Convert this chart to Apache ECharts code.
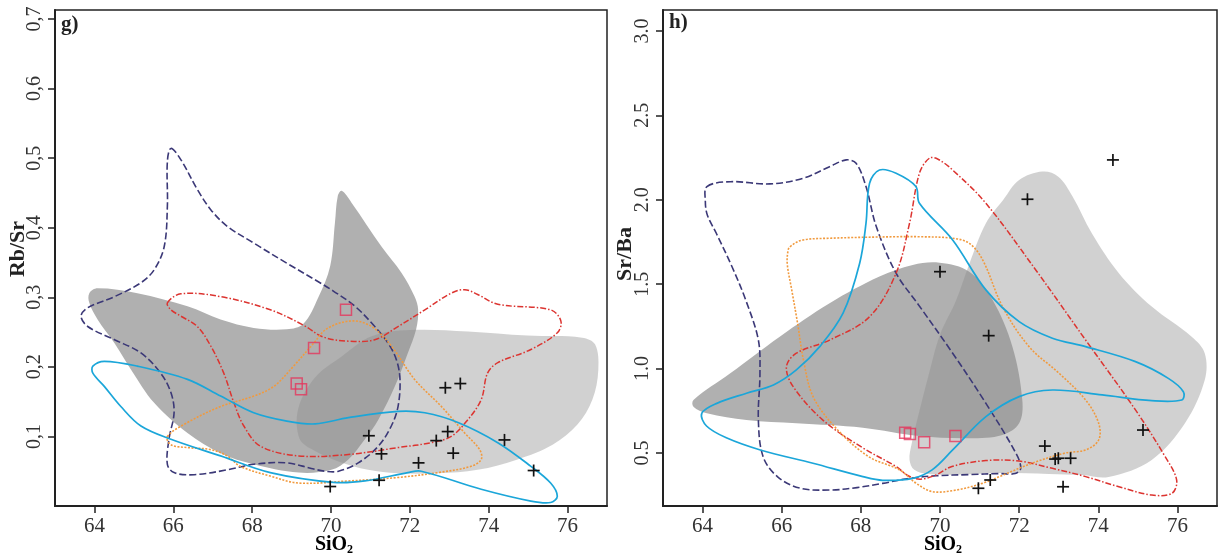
<!DOCTYPE html>
<html><head><meta charset="utf-8">
<script src="https://cdn.jsdelivr.net/npm/echarts@6/dist/echarts.min.js"></script>
<style>html,body{margin:0;padding:0;background:#fff}#c{width:1219px;height:555px}</style>
</head><body><div id="c"></div>
<script>
// ---- tick labels ----
const xTicks = [64, 66, 68, 70, 72, 74, 76];
const gYTicks = [0.1, 0.2, 0.3, 0.4, 0.5, 0.6, 0.7];
const hYTicks = [0.5, 1.0, 1.5, 2.0, 2.5, 3.0];

// ---- panel g) Rb/Sr vs SiO2 : fields ----
const gDark = [[63.87,0.306],[64.08,0.313],[65.09,0.306],[66.36,0.287],[67.20,0.268],[68.04,0.256],[68.88,0.254],[69.3,0.262],[69.68,0.300],[69.98,0.345],[70.10,0.407],[70.17,0.445],[70.27,0.453],[70.52,0.436],[71.28,0.373],[71.79,0.335],[72.12,0.301],[72.21,0.282],[72.16,0.254],[71.95,0.220],[71.62,0.172],[71.20,0.124],[70.86,0.096],[70.44,0.067],[70.01,0.052],[69.18,0.048],[68.04,0.060],[67.20,0.076],[66.36,0.105],[65.52,0.148],[64.93,0.196],[64.51,0.234],[64.08,0.268],[63.87,0.292]];
const gLight = [[69.17,0.140],[69.60,0.185],[70.27,0.215],[71.03,0.244],[72.0,0.253],[73.47,0.251],[74.98,0.245],[76.37,0.242],[76.70,0.232],[76.78,0.196],[76.63,0.153],[76.25,0.117],[75.62,0.088],[74.73,0.067],[73.72,0.052],[72.71,0.047],[71.70,0.047],[70.94,0.052],[70.19,0.064],[69.56,0.080],[69.2,0.097]];
const gPurple = [[65.94,0.514],[66.19,0.498],[66.61,0.455],[66.95,0.426],[67.37,0.402],[68.04,0.378],[68.88,0.349],[69.72,0.321],[70.06,0.309],[70.61,0.287],[71.11,0.258],[71.45,0.234],[71.66,0.210],[71.75,0.182],[71.70,0.143],[71.53,0.115],[71.20,0.086],[70.69,0.062],[70.19,0.050],[69.85,0.050],[69.5,0.054],[68.88,0.062],[68.04,0.060],[67.37,0.052],[66.53,0.045],[66.02,0.048],[65.85,0.060],[65.89,0.096],[66.02,0.134],[65.94,0.163],[65.68,0.191],[65.18,0.220],[64.51,0.239],[63.83,0.258],[63.66,0.273],[63.83,0.285],[64.51,0.301],[65.18,0.321],[65.52,0.340],[65.77,0.373],[65.85,0.431],[65.85,0.495]];
const gRed = [[65.85,0.292],[66.19,0.305],[67.20,0.301],[68.46,0.282],[69.3,0.260],[69.8,0.243],[70.44,0.237],[71.11,0.239],[71.70,0.258],[72.38,0.282],[73.05,0.306],[73.39,0.311],[73.72,0.304],[74.23,0.290],[75.57,0.282],[75.83,0.266],[75.74,0.249],[75.07,0.225],[74.23,0.206],[73.97,0.191],[73.81,0.153],[73.47,0.124],[73.05,0.100],[72.54,0.091],[71.70,0.084],[70.44,0.074],[69.18,0.072],[68.21,0.086],[67.79,0.115],[67.54,0.148],[67.28,0.191],[66.95,0.230],[66.61,0.258],[66.19,0.273],[65.94,0.282]];
const gOrange = [[65.85,0.100],[66.36,0.120],[67.20,0.143],[68.04,0.158],[68.55,0.172],[69.05,0.201],[69.56,0.234],[69.9,0.255],[70.52,0.266],[71.03,0.258],[71.53,0.230],[72.12,0.182],[72.80,0.143],[73.39,0.105],[73.77,0.081],[73.81,0.067],[73.55,0.057],[72.71,0.048],[71.70,0.041],[70.44,0.036],[69.18,0.033],[68.46,0.043],[67.70,0.057],[67.37,0.072],[66.95,0.081],[66.36,0.084],[65.94,0.088]];
const gBlue = [[63.96,0.201],[64.25,0.208],[65.09,0.201],[66.36,0.182],[67.20,0.158],[68.04,0.134],[68.88,0.122],[69.6,0.118],[70.44,0.127],[71.70,0.136],[72.38,0.134],[73.22,0.120],[74.23,0.091],[75.07,0.057],[75.57,0.033],[75.74,0.014],[75.57,0.005],[75.07,0.007],[73.81,0.024],[72.29,0.050],[71.95,0.048],[70.86,0.036],[70.06,0.034],[68.46,0.048],[67.20,0.072],[65.94,0.096],[65.18,0.115],[64.67,0.143],[64.25,0.172],[63.96,0.191]];
const gSquares = [[69.13,0.176],[69.24,0.168],[69.57,0.227],[70.38,0.282]];
const gCrosses = [[72.90,0.170],[73.28,0.176],[72.96,0.107],[70.96,0.101],[72.67,0.094],[74.40,0.095],[71.28,0.075],[73.10,0.076],[72.22,0.062],[75.14,0.051],[71.22,0.037],[69.98,0.028]];

// ---- panel h) Sr/Ba vs SiO2 : fields ----
const hDark = [[63.77,0.814],[64.70,0.972],[65.95,1.189],[67.21,1.387],[68.47,1.545],[69.31,1.614],[69.99,1.627],[70.74,1.574],[71.33,1.406],[71.83,1.130],[72.08,0.814],[72.00,0.676],[71.58,0.607],[70.74,0.587],[69.48,0.600],[68.05,0.650],[66.37,0.676],[65.11,0.695],[64.11,0.735],[63.77,0.774]];
const hLight = [[72.59,2.167],[72.0,2.117],[71.6,2.0],[71.16,1.861],[70.74,1.62],[70.4,1.40],[70.0,1.2],[69.7,0.95],[69.45,0.72],[69.28,0.55],[69.23,0.46],[69.35,0.40],[69.7,0.375],[70.5,0.372],[71.50,0.381],[72.75,0.376],[73.6,0.370],[74.26,0.358],[75.35,0.459],[76.19,0.676],[76.69,0.932],[76.69,1.091],[76.36,1.189],[75.35,1.367],[74.52,1.565],[73.84,1.80],[73.35,2.02],[72.99,2.137]];
const hPurple = [[64.11,2.078],[64.70,2.107],[65.70,2.094],[66.54,2.127],[67.21,2.196],[67.63,2.236],[67.88,2.216],[68.13,2.078],[68.39,1.841],[68.89,1.565],[69.45,1.380],[70.32,1.091],[71.16,0.794],[71.92,0.498],[72.04,0.41],[71.9,0.378],[71.5,0.378],[70.74,0.372],[69.9,0.365],[69.23,0.350],[68.55,0.320],[67.9,0.295],[67.25,0.281],[66.47,0.291],[65.89,0.360],[65.53,0.478],[65.41,0.695],[65.45,0.972],[65.41,1.169],[65.10,1.40],[64.75,1.60],[64.35,1.80],[64.12,1.91],[64.07,1.99]];
const hBlue = [[68.47,2.176],[68.89,2.157],[69.39,2.078],[69.48,1.979],[70.32,1.762],[71.16,1.466],[72.00,1.278],[72.84,1.180],[73.68,1.130],[74.94,1.041],[75.77,0.942],[76.15,0.863],[76.11,0.814],[75.35,0.810],[74.10,0.844],[72.84,0.873],[72.00,0.834],[71.16,0.715],[70.32,0.518],[69.8,0.40],[69.31,0.350],[68.55,0.338],[68.05,0.360],[66.79,0.439],[65.46,0.518],[64.6,0.59],[64.1,0.66],[63.98,0.735],[64.36,0.794],[65.11,0.854],[65.79,0.903],[66.37,0.992],[66.96,1.130],[67.55,1.328],[67.97,1.624],[68.13,1.861],[68.22,2.098]];
const hRed = [[69.73,2.246],[69.48,2.157],[69.23,1.861],[68.89,1.565],[68.22,1.307],[67.21,1.169],[66.37,1.091],[66.12,1.011],[66.29,0.893],[67.04,0.695],[68.05,0.530],[68.89,0.420],[69.2,0.365],[69.5,0.345],[69.9,0.370],[70.3,0.420],[71.16,0.455],[72.00,0.452],[72.84,0.409],[73.68,0.360],[74.52,0.300],[75.35,0.251],[75.86,0.261],[75.98,0.340],[75.69,0.478],[74.94,0.755],[73.68,1.169],[72.42,1.584],[71.16,1.979],[70.32,2.176],[69.95,2.24]];
const hOrange = [[66.21,1.722],[66.5,1.76],[67.21,1.772],[68.89,1.781],[69.48,1.781],[70.32,1.772],[70.74,1.742],[71.08,1.643],[71.58,1.367],[72.25,1.130],[73.01,0.972],[73.68,0.814],[74.01,0.676],[74.01,0.577],[73.68,0.518],[73.17,0.50],[72.33,0.44],[71.6,0.37],[71.07,0.32],[70.4,0.28],[69.81,0.271],[69.4,0.32],[68.98,0.40],[68.2,0.478],[67.4,0.64],[66.8,0.83],[66.55,1.05],[66.40,1.27],[66.25,1.47],[66.14,1.62],[66.16,1.70]];
const hSquares = [[69.12,0.620],[69.24,0.613],[69.60,0.563],[70.39,0.601]];
const hCrosses = [[74.37,2.236],[72.21,2.003],[70.00,1.574],[71.23,1.195],[75.13,0.636],[72.65,0.541],[72.91,0.464],[72.99,0.469],[73.30,0.469],[73.11,0.300],[71.27,0.340],[70.97,0.291]];

const SERIF = "'Liberation Serif', 'DejaVu Serif', serif";
const C = {
  dark: '#b0b0b0', light: 'rgba(140,140,140,0.40)',
  purple: '#3b3877', red: '#dc3430', orange: '#f19a3e', blue: '#1ba6d9', square: '#e5365c'
};

function poly(pts, idx, style, z) {
  return {
    type: 'custom', xAxisIndex: idx, yAxisIndex: idx, data: pts, z: z, silent: true,
    encode: {x: 0, y: 1},
    renderItem: function (params, api) {
      if (params.dataIndex !== 0) return null;
      const p = pts.map(d => api.coord(d));
      return {type: 'polygon', shape: {points: p, smooth: 0.35}, style: style};
    }
  };
}
function line(color, dash, w) {
  return {fill: 'none', stroke: color, lineWidth: w || 1.6, lineDash: dash || null};
}
function crosses(pts, idx) {
  return {
    type: 'custom', xAxisIndex: idx, yAxisIndex: idx, data: pts, z: 10, silent: true,
    encode: {x: 0, y: 1},
    renderItem: function (params, api) {
      const c = api.coord([api.value(0), api.value(1)]);
      const s = 6, st = {stroke: '#111', lineWidth: 1.7};
      return {type: 'group', children: [
        {type: 'line', shape: {x1: c[0] - s, y1: c[1], x2: c[0] + s, y2: c[1]}, style: st},
        {type: 'line', shape: {x1: c[0], y1: c[1] - s, x2: c[0], y2: c[1] + s}, style: st}
      ]};
    }
  };
}
function squares(pts, idx) {
  return {type: 'scatter', xAxisIndex: idx, yAxisIndex: idx, data: pts, z: 9, symbol: 'rect', symbolSize: 11,
    itemStyle: {color: 'rgba(0,0,0,0)', borderColor: C.square, borderWidth: 1.5}, silent: true};
}
function xAxis(idx) {
  return {
    type: 'value', gridIndex: idx, min: 63, max: 77,
    axisLine: {show: true, onZero: false, lineStyle: {color: '#222', width: 2}},
    axisTick: {show: true, length: 7, customValues: xTicks, lineStyle: {color: '#222', width: 1.5}},
    axisLabel: {customValues: xTicks, fontFamily: SERIF, fontSize: 21, color: '#333', margin: 10},
    splitLine: {show: false}
  };
}
function yAxis(idx, min, max, ticks, fmt) {
  return {
    type: 'value', gridIndex: idx, min: min, max: max,
    axisLine: {show: true, onZero: false, lineStyle: {color: '#222', width: 2}},
    axisTick: {show: true, length: 7, customValues: ticks, lineStyle: {color: '#222', width: 1.5}},
    axisLabel: {customValues: ticks, rotate: 90, fontFamily: SERIF, fontSize: 20, color: '#333', margin: 10, formatter: fmt},
    splitLine: {show: false}
  };
}

const chart = echarts.init(document.getElementById('c'), null, {renderer: 'canvas'});
chart.setOption({
  animation: false,
  backgroundColor: '#fff',
  grid: [
    {left: 55, top: 10, width: 552, height: 496, show: true, borderColor: '#222', borderWidth: 1.5, backgroundColor: 'transparent'},
    {left: 663, top: 10, width: 554, height: 496, show: true, borderColor: '#222', borderWidth: 1.5, backgroundColor: 'transparent'}
  ],
  xAxis: [xAxis(0), xAxis(1)],
  yAxis: [
    yAxis(0, 0, 0.713, gYTicks, v => v.toFixed(1).replace('.', ',')),
    yAxis(1, 0.186, 3.124, hYTicks, v => v.toFixed(1))
  ],
  graphic: [
    {type: 'text', left: 61, top: 14, style: {text: 'g)', font: "bold 21px 'Liberation Serif'", fill: '#222'}},
    {type: 'text', left: 669, top: 12, style: {text: 'h)', font: "bold 21px 'Liberation Serif'", fill: '#222'}},
    {type: 'text', x: 18, y: 249, rotation: Math.PI / 2, style: {text: 'Rb/Sr', font: "bold 22px 'Liberation Serif'", fill: '#222', align: 'center', verticalAlign: 'middle'}},
    {type: 'text', x: 625, y: 254, rotation: Math.PI / 2, style: {text: 'Sr/Ba', font: "bold 22px 'Liberation Serif'", fill: '#222', align: 'center', verticalAlign: 'middle'}},
    {type: 'text', x: 334, y: 545, style: {text: '{b|SiO}{s|2}', align: 'center', verticalAlign: 'middle', rich: {b: {fontFamily: SERIF, fontWeight: 'bold', fontSize: 20, color: '#222'}, s: {fontFamily: SERIF, fontWeight: 'bold', fontSize: 12, color: '#222', padding: [9, 0, 0, 0]}}}},
    {type: 'text', x: 943, y: 545, style: {text: '{b|SiO}{s|2}', align: 'center', verticalAlign: 'middle', rich: {b: {fontFamily: SERIF, fontWeight: 'bold', fontSize: 20, color: '#222'}, s: {fontFamily: SERIF, fontWeight: 'bold', fontSize: 12, color: '#222', padding: [9, 0, 0, 0]}}}}
  ],
  series: [
    poly(gDark, 0, {fill: C.dark, stroke: 'none'}, 1),
    poly(gLight, 0, {fill: C.light, stroke: 'none'}, 2),
    poly(gPurple, 0, line(C.purple, [7, 3], 1.6), 3),
    poly(gRed, 0, line(C.red, [6, 2, 1.5, 2], 1.5), 3),
    poly(gOrange, 0, line(C.orange, [2, 1.5], 1.6), 3),
    poly(gBlue, 0, line(C.blue, null, 1.7), 3),
    squares(gSquares, 0),
    crosses(gCrosses, 0),
    poly(hDark, 1, {fill: C.dark, stroke: 'none'}, 1),
    poly(hLight, 1, {fill: C.light, stroke: 'none'}, 2),
    poly(hPurple, 1, line(C.purple, [7, 3], 1.6), 3),
    poly(hRed, 1, line(C.red, [6, 2, 1.5, 2], 1.5), 3),
    poly(hOrange, 1, line(C.orange, [2, 1.5], 1.6), 3),
    poly(hBlue, 1, line(C.blue, null, 1.7), 3),
    squares(hSquares, 1),
    crosses(hCrosses, 1)
  ]
});
</script></body></html>
